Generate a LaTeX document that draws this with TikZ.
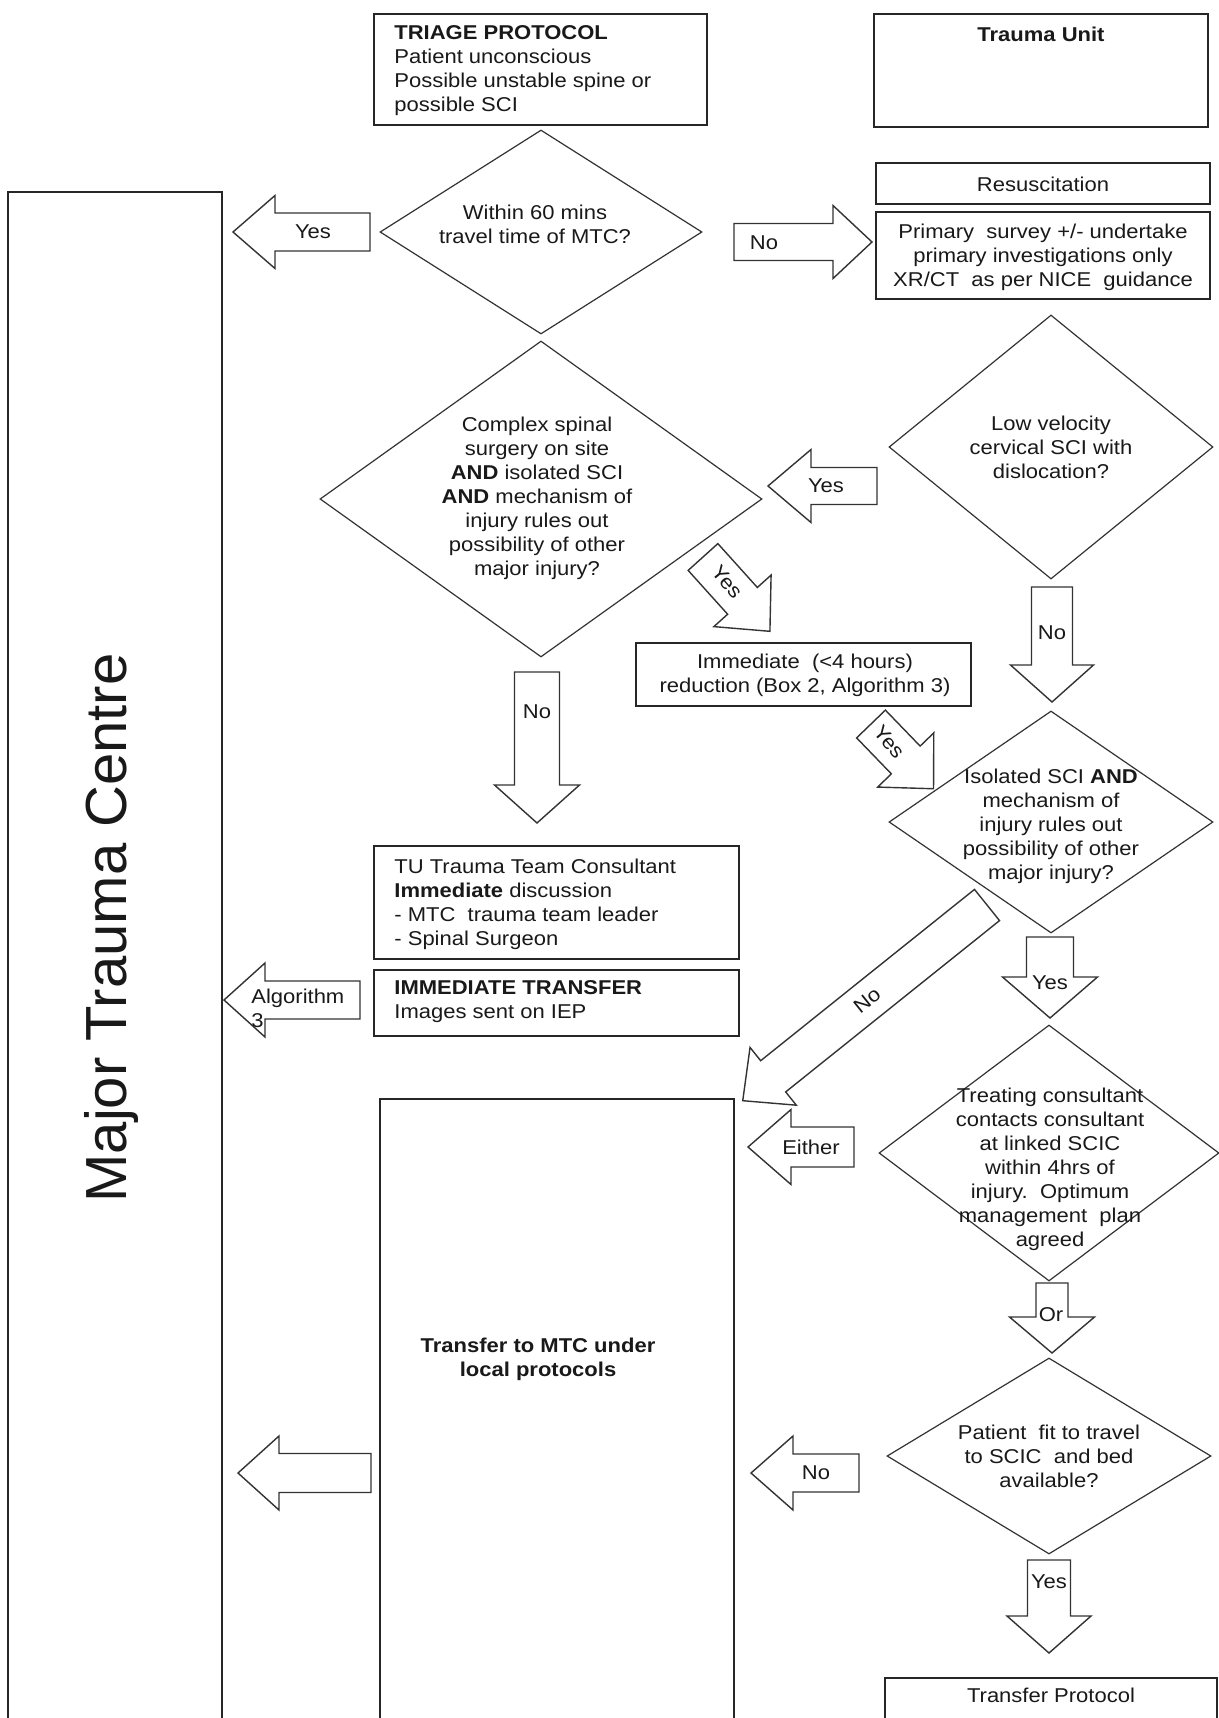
\documentclass[tikz,border=0pt]{standalone}
\usepackage{fontspec}
\setmainfont{Liberation Sans}[FakeStretch=1.1]
\newfontfamily\bigfont{Liberation Sans}
\usetikzlibrary{shapes.geometric}
\newcommand\flowfont{\fontsize{10pt}{12pt}\selectfont}
\tikzset{
  box/.style={draw=black!85, line width=0.9pt, inner sep=0pt},
  dia/.style={diamond, draw=black!80, line width=0.6pt, inner sep=0pt},
  txt/.style={inner sep=0pt, font=\flowfont, align=center, text=black!90},
  ltxt/.style={inner sep=0pt, font=\flowfont, align=left, text=black!90},
  lbl/.style={inner sep=0pt, font=\flowfont, text=black!90},
  blk/.style={draw=black!80, line width=0.7pt},
  pics/barrow/.style n args={4}{code={%
    \draw[blk] (0,{-(#3)/2}) -- ({#1-#2},{-(#3)/2}) -- ({#1-#2},{-(#4)/2}) -- (#1,0)
      -- ({#1-#2},{(#4)/2}) -- ({#1-#2},{(#3)/2}) -- (0,{(#3)/2}) -- cycle;}}
}
\begin{document}
\begin{tikzpicture}[x=0.5pt,y=-0.5pt]
\fill[white] (0,0) rectangle (1219,1718);
\useasboundingbox (0,0) rectangle (1219,1718);
\clip (0,0) rectangle (1219,1718);

% ---------- boxes ----------
\node[box, minimum width=166.5pt, minimum height=55.5pt] (triage) at (540.5,69.5) {};
\node[box, minimum width=167pt, minimum height=56.5pt] (tunit) at (1041,70.5) {};
\node[box, minimum width=167pt, minimum height=20.5pt] (resus) at (1043,183.5) {};
\node[box, minimum width=167pt, minimum height=43.5pt] (primary) at (1043,255.5) {};
\node[box, minimum width=167.5pt, minimum height=31.5pt] (immed) at (803.5,674.5) {};
\node[box, minimum width=182.5pt, minimum height=56.5pt] (tuteam) at (556.5,902.5) {};
\node[box, minimum width=182.5pt, minimum height=33pt] (immtrans) at (556.5,1003) {};
\node[box, minimum width=177pt, minimum height=320.5pt] (tmtc) at (557,1419.5) {};
\node[box, minimum width=107pt, minimum height=774pt] (mtc) at (115,966) {};
\node[box, minimum width=166pt, minimum height=31pt] (tprot) at (1051,1709) {};

% ---------- diamonds ----------
\node[dia, minimum width=161pt, minimum height=102pt] (d1) at (541,232) {};
\node[dia, minimum width=221pt, minimum height=158pt] (d2) at (541,499) {};
\node[dia, minimum width=162pt, minimum height=132pt] (d3) at (1051,447) {};
\node[dia, minimum width=162pt, minimum height=111pt] (d4) at (1051,822) {};
\node[dia, minimum width=170pt, minimum height=128pt] (d5) at (1049,1153) {};
\node[dia, minimum width=162pt, minimum height=98pt] (d6) at (1049,1456) {};

% ---------- texts ----------
\node[ltxt, anchor=north west] (triaget) at (394,25.5)
  {\textbf{TRIAGE PROTOCOL}\\Patient unconscious\\Possible unstable spine or\\possible SCI};
\node[txt] (tunitt) at (1041,34) {\textbf{Trauma Unit}};
\node[txt] (resust) at (1043,184) {Resuscitation};
\node[txt] (primaryt) at (1043,257)
  {Primary\ \ survey +/- undertake\\primary investigations only\\XR/CT\ \ as per NICE\ \ guidance};
\node[txt] (d1t) at (535,224) {Within 60 mins\\travel time of MTC?};
\node[txt] (d2t) at (537,498)
  {Complex spinal\\surgery on site\\\textbf{AND} isolated SCI\\\textbf{AND} mechanism of\\injury rules out\\possibility of other\\major injury?};
\node[txt] (d3t) at (1051,447) {Low velocity\\cervical SCI with\\dislocation?};
\node[txt] (immedt) at (805,675) {Immediate\ \ (<4 hours)\\reduction (Box 2, Algorithm 3)};
\node[txt] (d4t) at (1051,826)
  {Isolated SCI \textbf{AND}\\mechanism of\\injury rules out\\possibility of other\\major injury?};
\node[ltxt, anchor=north west] (tuteamt) at (394,858.5)
  {TU Trauma Team Consultant\\\textbf{Immediate} discussion\\- MTC\ \ trauma team leader\\- Spinal Surgeon};
\node[ltxt, anchor=north west] (immtranst) at (394,980.5)
  {\textbf{IMMEDIATE TRANSFER}\\Images sent on IEP};
\node[txt] (d5t) at (1050,1169)
  {Treating consultant\\contacts consultant\\at linked SCIC\\within 4hrs of\\injury.\ \ Optimum\\management\ \ plan\\agreed};
\node[txt] (d6t) at (1049,1456) {Patient\ \ fit to travel\\to SCIC\ \ and bed\\available?};
\node[txt] (tmtct) at (538,1359) {\textbf{Transfer to MTC under}\\\textbf{local protocols}};
\node[txt] (tprott) at (1051,1695) {Transfer Protocol};
\node[inner sep=0pt, rotate=90, font={\bigfont\fontsize{29pt}{34pt}\selectfont}, text=black!90]
  (mtct) at (112,928) {Major Trauma Centre};

% ---------- block arrows ----------
\pic[rotate=180] at (370,232) {barrow={137}{42}{38}{73}};
\node[lbl] (l1) at (313,232) {Yes};
\pic at (734,242) {barrow={138}{39}{37}{73}};
\node[lbl] (l2) at (764,243) {No};
\pic[rotate=180] at (877,486) {barrow={109}{43}{37}{73}};
\node[lbl] (l3) at (826,486) {Yes};
\pic[rotate=-90] at (1052,587) {barrow={115}{37}{41}{83}};
\node[lbl] (l4) at (1052,633) {No};
\pic[rotate=-48] at (703,557) {barrow={100}{41}{40}{77}};
\node[lbl, rotate=-50] (l5) at (727,582) {Yes};
\pic[rotate=-90] at (537,672) {barrow={151}{38}{45}{85}};
\node[lbl] (l6) at (537,712) {No};
\pic[rotate=-46] at (871,724) {barrow={90}{40}{40}{78}};
\node[lbl, rotate=-50] (l7) at (889,742) {Yes};
\pic[rotate=-141.3] at (987,905) {barrow={313}{39}{40}{74}};
\node[lbl, rotate=38.7] (l8) at (867,1000) {No};
\pic[rotate=-90] at (1050,937) {barrow={81}{41}{47}{95}};
\node[lbl] (l9) at (1050,983) {Yes};
\pic[rotate=180] at (360,1000) {barrow={136}{41}{38}{74}};
\node[ltxt, anchor=north west] (l10) at (251,989) {Algorithm\\3};
\pic[rotate=180] at (854,1147) {barrow={106}{43}{40}{75}};
\node[lbl] (l11) at (811,1147) {Either};
\pic[rotate=-90] at (1052,1283) {barrow={70}{36}{32}{85}};
\node[lbl] (l12) at (1051,1315) {Or};
\pic[rotate=180] at (859,1473) {barrow={108}{42}{38}{74}};
\node[lbl] (l13) at (816,1473) {No};
\pic[rotate=180] at (371,1473) {barrow={133}{41}{39}{74}};
\pic[rotate=-90] at (1049,1560) {barrow={93}{37}{43}{84}};
\node[lbl] (l15) at (1049,1582) {Yes};
\end{tikzpicture}
\end{document}
